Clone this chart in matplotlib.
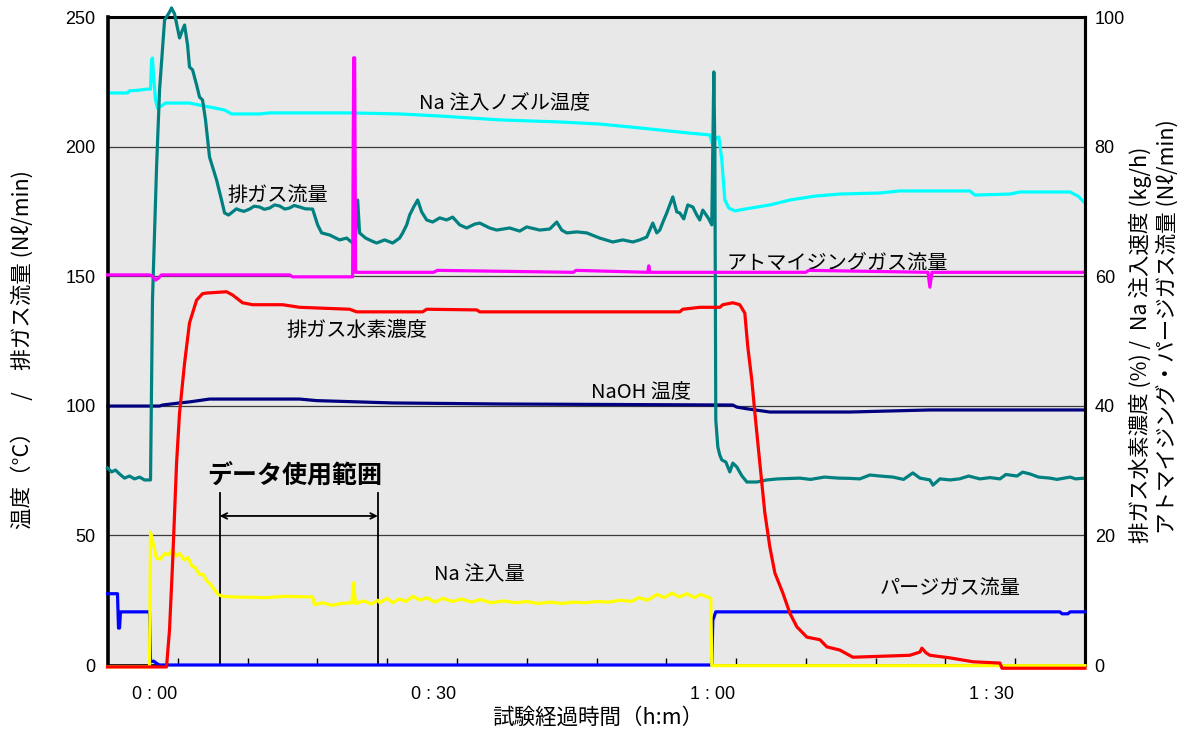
import matplotlib
matplotlib.use("Agg")
import matplotlib.pyplot as plt
from matplotlib.ticker import FixedLocator

JP = ["Noto Sans CJK JP", "DejaVu Sans"]
LAT = ["Liberation Sans", "DejaVu Sans"]
plt.rcParams["font.family"] = JP

# ---- data: elapsed time in minutes, values in axis units ----
# left axis (°C / Nl/min)
nozzle_temp_t = [-5.0, -2.9, -2.7, -1.6, -0.75, -0.43, -0.32, -0.22, -0.11, 0.11, 0.32, 0.75, 1.18,
                 3.76, 4.84, 6.45, 7.53, 8.28, 11.29, 12.37, 20.97, 26.34, 30.65, 37.10, 43.55,
                 47.85, 52.15, 57.53, 59.68, 60.0, 60.32, 60.65, 60.97, 61.29, 61.72, 62.37, 63.44,
                 66.13, 68.28, 70.97, 73.66, 77.96, 80.11, 87.63, 88.17, 91.94, 93.01, 98.39, 99.25, 100.0]
nozzle_temp_v = [220.7, 220.7, 221.5, 221.8, 222.2, 222.2, 233.4, 234.2, 227.6, 218.0, 214.9, 215.7, 216.8,
                 216.8, 216.0, 214.9, 214.1, 212.6, 212.6, 213.0, 213.0, 212.6, 211.8, 210.3, 209.5,
                 208.7, 207.2, 205.2, 204.5, 200.6, 203.3, 203.7, 194.8, 179.4, 176.3, 175.2, 175.9,
                 177.5, 179.4, 180.9, 181.7, 182.1, 182.9, 182.9, 181.3, 181.7, 182.5, 182.5, 180.9, 178.2]

exhaust_flow_t = [-5.05, -4.62, -4.19, -3.76, -3.23, -2.69, -2.15, -1.61, -1.08, -0.54, -0.43, -0.22,
                  0.22, 0.54, 1.08, 1.61, 1.83, 2.15, 2.69, 3.01, 3.23, 3.55, 3.76, 4.09, 4.52, 4.84,
                  5.16, 5.48, 5.91, 6.67, 7.20, 7.53, 7.96, 8.39, 8.8, 9.14, 9.6, 10.22, 10.7, 11.29,
                  11.8, 12.37, 12.9, 13.44, 14.0, 14.52, 15.0, 15.59, 16.2, 16.99, 17.53, 17.96, 18.82,
                  19.89, 20.65, 21.29, 21.61, 21.83, 22.04,
                  22.69, 23.33, 23.87, 24.73, 25.59, 26.34, 26.67, 27.10, 27.42, 27.85, 28.28, 28.71,
                  29.25, 29.89, 30.65, 31.40, 32.04, 32.80, 33.55, 34.41, 34.95, 36.02, 36.77, 38.17,
                  39.25, 40.0, 41.40, 42.47, 43.23, 43.76, 44.30, 45.38, 46.45, 47.85, 49.25, 50.32,
                  51.40, 52.15, 52.90, 53.23, 53.55, 53.98, 54.30, 54.73, 55.05, 55.38, 55.70, 56.13,
                  56.45, 56.88, 57.31, 57.85, 58.28, 58.60, 58.92, 59.14, 59.57, 59.89, 60.0, 60.11,
                  60.22, 60.32, 60.54, 60.75, 60.97, 61.40, 61.83, 62.15, 62.58, 63.12, 63.66, 64.73,
                  65.81, 67.0, 69.35, 70.5, 72.0, 73.5, 74.73, 75.8, 76.88, 78.0, 79.35, 80.5, 81.5,
                  82.26, 83.33, 83.66, 84.41, 85.48, 86.5, 87.5, 88.71, 89.8, 90.86, 91.5, 92.69,
                  93.3, 94.09, 95.0, 96.24, 97.0, 98.39, 99.0, 100.0]
exhaust_flow_v = [76.0, 74.5, 75.2, 73.7, 72.1, 72.9, 71.8, 72.5, 71.4, 71.4, 71.4, 140.8,
                  192.1, 221.8, 248.8, 251.9, 253.5, 251.2, 241.9, 245.0, 246.9, 239.2, 230.7, 229.6,
                  223.8, 219.1, 218.0, 210.3, 196.0, 187.1, 179.4, 174.4, 173.6, 174.8, 176.0, 175.5,
                  175.0, 175.9, 177.0, 176.7, 175.8, 176.3, 177.5, 177.1, 175.9, 176.3, 177.3, 176.7,
                  176.0, 175.9, 169.8, 166.7, 165.9, 164.0, 164.7, 162.8,
                  165.9, 179.4, 166.7, 164.7, 163.6, 162.8, 164.0, 162.8, 164.7, 166.7, 169.8, 173.6,
                  176.7, 179.4, 174.8, 171.7, 170.9, 172.5, 171.7, 172.8, 169.8, 168.6, 170.1, 170.5,
                  168.6, 167.8, 168.6, 167.4, 169.0, 167.8, 168.2, 170.9, 167.8, 166.7, 167.1, 166.7,
                  164.7, 163.2, 164.0, 163.2, 164.0, 165.1, 167.8, 170.5, 166.7, 167.8, 171.7, 174.4,
                  177.5, 180.6, 174.8, 174.4, 172.1, 177.5, 176.7, 173.6, 171.7, 175.5, 174.4, 172.1,
                  169.8, 198.7, 228.8, 198.7, 94.5, 84.1, 81.0, 79.1, 78.3, 74.5, 77.9, 76.4, 73.0,
                  70.6, 70.6, 71.4, 71.8, 72.1, 71.6, 72.5, 72.1, 72.0, 71.8, 73.3, 72.9, 72.5, 71.6,
                  74.1, 72.1, 71.4, 69.4, 71.8, 71.4, 71.8, 72.9, 71.8, 72.3, 71.8, 73.5, 72.9,
                  74.4, 73.7, 72.5, 72.1, 71.6, 72.5, 71.8, 72.1]

naoh_temp_t = [-5.0, 0.54, 0.86, 2.69, 3.76, 5.91, 15.59, 17.42, 25.59, 37.10, 62.15, 62.58,
               63.76, 66.13, 74.73, 83.33, 100.0]
naoh_temp_v = [99.9, 99.9, 100.3, 101.1, 101.5, 102.6, 102.6, 102.0, 101.1, 100.7, 100.3, 99.5,
               98.8, 97.6, 97.6, 98.4, 98.4]

# right axis (% / kg/h / Nl/min)
atomizing_flow_t = [-5.05, -0.54, -0.22, 0.11, 0.43, 0.75, 14.52, 14.84, 21.29, 21.40, 21.51, 21.61,
                    30.0, 30.4, 45.0, 45.3, 53.01, 53.12, 53.23, 70.0, 70.3, 83.12, 83.33, 83.55, 100.0]
atomizing_flow_v = [60.2, 60.2, 60.0, 59.4, 59.7, 60.2, 60.2, 59.9, 59.9, 93.7, 93.7, 60.6,
                    60.6, 60.9, 60.6, 60.9, 60.6, 61.6, 60.6, 60.6, 60.9, 60.6, 58.3, 60.6, 60.6]

purge_flow_t = [-5.05, -3.98, -3.87, -3.76, -3.66, -0.54, -0.43, -0.11, 0.32, 0.54, 59.89, 60.0,
                60.32, 97.31, 97.53, 98.17, 98.39, 100.0]
purge_flow_v = [11.0, 11.0, 5.7, 5.7, 8.2, 8.2, 0.5, 0.6, 0.15, 0.0, 0.0, 6.9,
                8.2, 8.2, 7.9, 7.9, 8.2, 8.2]

na_rate_t = [-5.05, -0.54, -0.43, -0.22, 0.2, 0.6, 1.1, 1.5, 1.9, 2.3, 2.7, 3.2, 3.6, 4.0, 4.4,
             4.8, 5.2, 5.6, 6.0, 6.4, 6.8, 7.3, 8.4, 12.0, 14.0, 16.99, 17.2, 18.0, 19.1, 20.0,
             21.2, 21.4, 21.6, 22.5, 23.3, 24.0, 24.2, 25.0, 25.6, 26.3, 27.0, 27.8, 28.5, 29.3,
             30.1, 31.0, 32.0, 33.0, 34.0, 35.0, 36.2, 37.5, 38.8, 40.0, 41.2, 42.5, 43.8, 45.0,
             46.3, 47.5, 48.8, 50.0, 51.3, 52.0, 53.0, 54.0, 54.8, 55.6, 56.4, 57.2, 58.0, 58.7,
             59.4, 59.78, 59.89, 100.0]
na_rate_v = [-0.3, -0.3, 20.5, 19.3, 16.5, 16.3, 17.2, 17.0, 17.8, 16.8, 17.2, 16.2, 16.6, 15.3, 15.0,
             14.0, 14.0, 13.0, 12.5, 11.7, 10.9, 10.6, 10.5, 10.4, 10.6, 10.5, 9.3, 9.6, 9.2, 9.5,
             9.6, 12.7, 9.5, 9.9, 9.4, 10.0, 9.6, 10.3, 9.6, 10.2, 9.8, 10.6, 10.0, 10.4,
             9.7, 10.3, 9.8, 10.2, 9.7, 10.1, 9.6, 9.9, 9.6, 9.8, 9.5, 9.7, 9.5, 9.7,
             9.6, 9.8, 9.7, 10.0, 9.8, 10.4, 10.0, 10.9, 10.4, 11.1, 10.5, 11.0, 10.4, 10.9,
             10.5, 10.3, -0.1, -0.1]

h2_conc_t = [-5.05, 1.29, 1.61, 1.94, 2.37, 2.69, 3.23, 3.76, 4.52, 5.16, 5.59, 7.74, 8.39, 9.46,
             10.54, 13.76, 15.59, 20.97, 21.72, 28.82, 29.25, 34.62, 34.95, 56.45, 56.77, 58.60,
             60.75, 61.08, 62.15, 62.90, 63.44, 63.76, 64.19, 64.52, 65.05, 65.59, 66.13, 66.67,
             67.53, 68.28, 69.03, 70.11, 71.51, 72.26, 73.66, 75.05, 81.18, 82.26, 82.47, 82.90,
             83.33, 85.48, 87.96, 90.86, 91.08, 100.0]
h2_conc_v = [-0.3, -0.3, 5.4, 15.7, 31.2, 38.9, 46.6, 52.8, 56.3, 57.3, 57.4, 57.6, 57.1, 55.9,
             55.6, 55.6, 55.2, 54.9, 54.5, 54.5, 54.9, 54.8, 54.5, 54.5, 54.9, 55.2,
             55.2, 55.6, 55.9, 55.6, 54.3, 49.1, 44.0, 38.9, 31.2, 23.5, 18.2, 14.2,
             11.1, 8.0, 5.9, 4.3, 3.9, 2.8, 2.3, 1.2, 1.5, 2.0, 2.6, 1.9,
             1.5, 1.1, 0.5, 0.3, -0.5, -0.5]

data_range_start = 7.0
data_range_end = 24.0

x_tick_pos = [0, 30, 60, 90]
x_tick_lab = ["0 : 00", "0 : 30", "1 : 00", "1 : 30"]

# ---- figure ----
fig = plt.figure(figsize=(11.92, 7.40), dpi=100)
ax = fig.add_axes([108 / 1192, 75 / 740, 977 / 1192, 648 / 740])
ax.set_facecolor("#e8e8e8")
ax.set_xlim(-5, 100)
ax.set_ylim(0, 250)
ax2 = ax.twinx()
ax2.set_ylim(0, 100)

for g in [50, 100, 150, 200]:
    ax.axhline(g, color="#3c3c3c", lw=0.9, zorder=0.5)

lw = 2.3
ax.plot(nozzle_temp_t, nozzle_temp_v, color="#00ffff", lw=lw, clip_on=False, zorder=2)
ax.plot(naoh_temp_t, naoh_temp_v, color="#000080", lw=lw, clip_on=False, zorder=2)
ax.plot(exhaust_flow_t, exhaust_flow_v, color="#008080", lw=lw, clip_on=False, zorder=3)

ax2.plot(atomizing_flow_t, atomizing_flow_v, color="#ff00ff", lw=lw, clip_on=False, zorder=2)
ax2.plot(purge_flow_t, purge_flow_v, color="#0000ff", lw=lw, clip_on=False, zorder=3)
ax2.plot(na_rate_t, na_rate_v, color="#ffff00", lw=lw, clip_on=False, zorder=4)
ax2.plot(h2_conc_t, h2_conc_v, color="#ff0000", lw=lw, clip_on=False, zorder=5)

# data-use range marker
for xv in (data_range_start, data_range_end):
    ax.plot([xv, xv], [0, 66.4], color="black", lw=1.3, zorder=6)
ax.annotate("", xy=(data_range_start, 57.5), xytext=(data_range_end, 57.5),
            arrowprops=dict(arrowstyle="<->", color="black", lw=1.3,
                            mutation_scale=10, shrinkA=0, shrinkB=0),
            zorder=6)
ax.text((data_range_start + data_range_end) / 2 - 0.4, 73.3, "データ使用範囲",
        ha="center", va="center", fontsize=18, fontweight="bold", zorder=7)

# series labels
lab_kw = dict(ha="center", va="center", fontsize=14.5, color="black", zorder=7)
ax.text(37.6, 216.8, "Na 注入ノズル温度", **lab_kw)
ax.text(13.2, 181.3, "排ガス流量", **lab_kw)
ax.text(73.4, 155.1, "アトマイジングガス流量", **lab_kw)
ax.text(21.7, 129.2, "排ガス水素濃度", **lab_kw)
ax.text(52.3, 105.3, "NaOH 温度", **lab_kw)
ax.text(34.9, 34.7, "Na 注入量", **lab_kw)
ax.text(85.5, 29.3, "パージガス流量", **lab_kw)

# axes styling
ax.set_yticks(range(0, 251, 50))
ax.tick_params(axis="y", length=0, pad=9, labelsize=13)
for t in ax.get_yticklabels():
    t.set_fontfamily(LAT)
ax2.set_yticks(range(0, 101, 20))
ax2.tick_params(axis="y", length=0, pad=7, labelsize=13)
for t in ax2.get_yticklabels():
    t.set_fontfamily(LAT)

ax.set_xticks(x_tick_pos)
ax.set_xticklabels(x_tick_lab, fontsize=13, fontfamily=LAT)
ax.tick_params(axis="x", which="major", length=0, pad=15)
ax.xaxis.set_minor_locator(FixedLocator([-5 + 7.5 * k for k in range(1, 14)]))
ax.tick_params(axis="x", which="minor", direction="in", length=5, width=1, color="black")

ax.spines["left"].set_linewidth(2.6)
ax.spines["top"].set_linewidth(2.2)
ax.spines["right"].set_linewidth(2.2)
ax.spines["bottom"].set_linewidth(1.2)
for s in ("left", "top", "bottom"):
    ax2.spines[s].set_visible(False)
ax2.spines["right"].set_linewidth(2.2)

# axis titles
fig.text(22 / 1192, 1 - 350 / 740, "温度（°C）　/　排ガス流量 (Nℓ/min)", rotation=90,
         ha="center", va="center", fontsize=15.5)
fig.text(1140 / 1192, 1 - 345 / 740, "排ガス水素濃度 (%) /  Na 注入速度 (kg/h)", rotation=90,
         ha="center", va="center", fontsize=15.5)
fig.text(1168 / 1192, 1 - 327 / 740, "アトマイジング・パージガス流量 (Nℓ/min)", rotation=90,
         ha="center", va="center", fontsize=15.5)
fig.text(598 / 1192, 1 - 718 / 740, "試験経過時間（h:m）", ha="center", va="center", fontsize=15.5)

fig.savefig("out.png", dpi=100, facecolor="white")
